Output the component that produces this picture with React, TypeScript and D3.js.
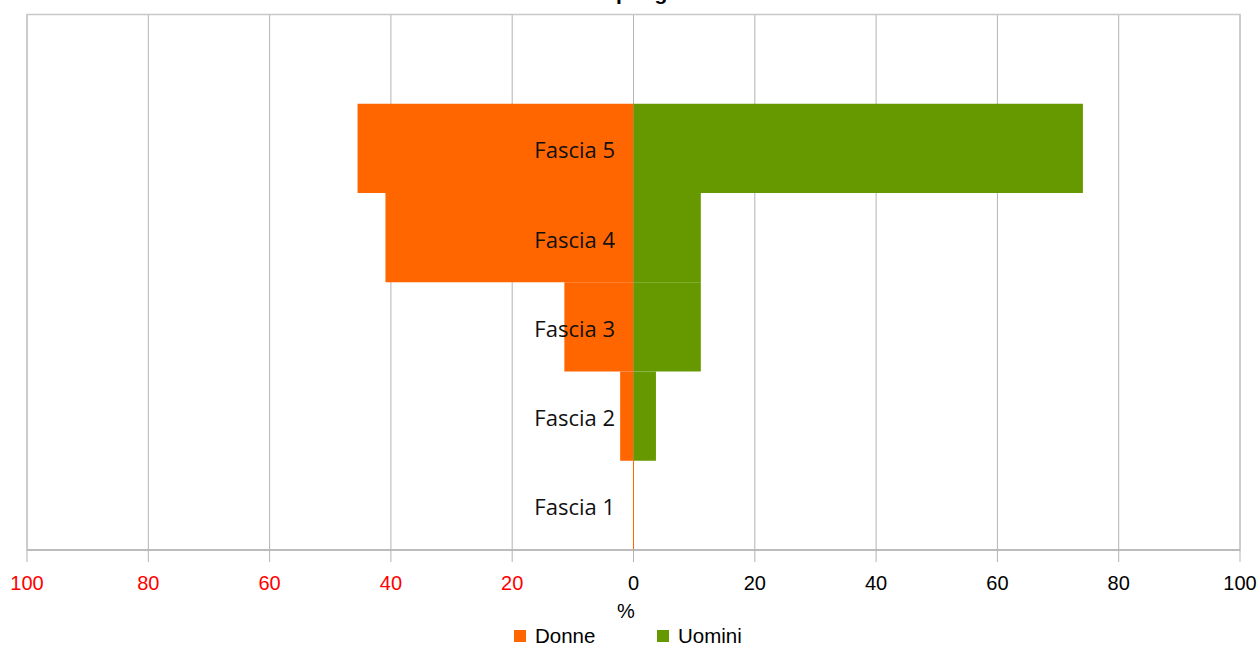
import React from "react";
import * as d3 from "d3";

const categories = ["Fascia 1", "Fascia 2", "Fascia 3", "Fascia 4", "Fascia 5"];
const donne = [0, 2.2, 11.4, 40.9, 45.5];
const uomini = [0, 3.7, 11.1, 11.1, 74.1];
const tickValues = [-100, -80, -60, -40, -20, 0, 20, 40, 60, 80, 100];
const seriesNames = ["Donne", "Uomini"];
const seriesColors = ["#FF6600", "#669900"];
const title = "Distribuzione dei lavoratori per genere e fascia di retribuzione";

const W = 1258;
const H = 645;
const left = 27;
const right = 1240;
const top = 14.5;
const bottom = 550;

export default function App() {
  const x = d3.scaleLinear().domain([-100, 100]).range([left, right]);
  // six slots: the topmost one is empty
  const slots = ["", ...categories.slice().reverse()];
  const y = d3.scaleBand<string>().domain(slots).range([top, bottom]).padding(0);
  const bw = y.bandwidth();
  const x0 = x(0);

  return (
    <svg width={W} height={H} style={{ position: "absolute", left: 0, top: 0, background: "#fff" }}>
      <text x={648} y={0.3} textAnchor="middle" fontFamily="Liberation Sans, Arial, sans-serif" fontWeight="bold" fontSize={21} fill="#000">
        {title}
      </text>
      {/* grid */}
      {tickValues.map((t) => (
        <line key={"g" + t} x1={x(t)} x2={x(t)} y1={top} y2={bottom} stroke="#b3b3b3" strokeWidth={1} />
      ))}
      {/* plot border */}
      <rect x={left} y={top} width={right - left} height={bottom - top} fill="none" stroke="#c8c8c8" strokeWidth={1.5} />
      {/* bars */}
      {categories.map((c, i) => (
        <g key={c}>
          {donne[i] > 0 && (
            <rect x={x(-donne[i])} y={y(c)!} width={x0 - x(-donne[i])} height={bw} fill={seriesColors[0]} />
          )}
          {uomini[i] > 0 && (
            <rect x={x0} y={y(c)!} width={x(uomini[i]) - x0} height={bw} fill={seriesColors[1]} />
          )}
        </g>
      ))}
      {/* zero line */}
      <line x1={x0} x2={x0} y1={y("Fascia 2")! + bw} y2={bottom} stroke="#FF6600" strokeWidth={1} />
      {/* category labels */}
      {categories.map((c) => (
        <text key={"l" + c} x={615} y={y(c)! + bw / 2 + 1} textAnchor="end" dominantBaseline="central" fontFamily="Open Sans, sans-serif" fontSize={22} fill="#111">
          {c}
        </text>
      ))}
      {/* axis */}
      <line x1={left} x2={right} y1={bottom} y2={bottom} stroke="#b3b3b3" strokeWidth={1.5} />
      {tickValues.map((t) => (
        <g key={"t" + t}>
          <line x1={x(t)} x2={x(t)} y1={bottom} y2={bottom + 12} stroke="#b3b3b3" strokeWidth={1} />
          <text x={x(t)} y={583} textAnchor="middle" dominantBaseline="central" fontFamily="Liberation Sans, Arial, sans-serif" fontSize={20} fill={t < 0 ? "#FF0000" : "#000"}>
            {Math.abs(t)}
          </text>
        </g>
      ))}
      <text x={626} y={611} textAnchor="middle" dominantBaseline="central" fontFamily="Liberation Sans, Arial, sans-serif" fontSize={20} fill="#000">
        %
      </text>
      {/* legend */}
      {seriesNames.map((s, i) => (
        <g key={s} transform={`translate(${514 + i * 143},0)`}>
          <rect x={0} y={630} width={12} height={12} fill={seriesColors[i]} />
          <text x={21} y={635} dominantBaseline="central" fontFamily="Liberation Sans, Arial, sans-serif" fontSize={20.5} fill="#000">
            {s}
          </text>
        </g>
      ))}
    </svg>
  );
}
